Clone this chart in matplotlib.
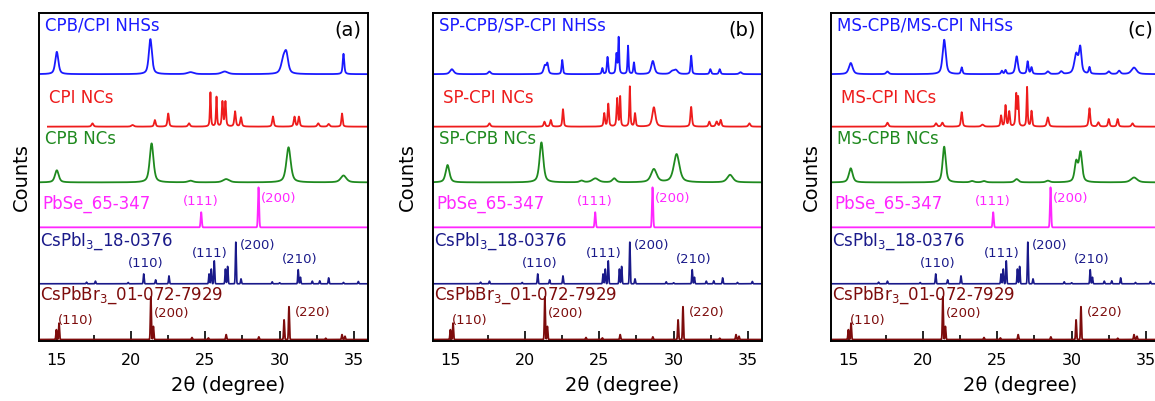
import numpy as np
import matplotlib.pyplot as plt

# Patrones de difraccion: cada pico es (2theta, altura, ancho FWHM)

# (a) CPB / CPI
cpb_cpi_nhs = [(15.0, 6.8, 0.25), (21.3, 10.7, 0.25), (24.0, 0.6, 0.5), (26.3, 0.8, 0.5),
               (30.25, 4.0, 0.35), (30.45, 5.5, 0.3), (34.3, 6.2, 0.12)]
cpi_ncs = [(17.4, 1.0, 0.15), (20.1, 0.5, 0.2), (21.6, 2.0, 0.12), (22.5, 4.0, 0.12),
           (23.9, 1.0, 0.15), (25.34, 10.4, 0.08), (25.75, 9.0, 0.08), (26.15, 7.5, 0.1),
           (26.35, 7.5, 0.1), (27.0, 4.6, 0.12), (27.4, 2.8, 0.12), (29.55, 3.1, 0.12),
           (31.0, 3.0, 0.12), (31.3, 3.0, 0.12), (32.6, 1.0, 0.15), (33.3, 0.8, 0.15),
           (34.2, 4.0, 0.1)]
cpb_ncs = [(15.0, 3.7, 0.3), (21.38, 11.9, 0.3), (24.0, 0.5, 0.4), (26.4, 1.0, 0.5),
           (30.6, 10.7, 0.35), (34.3, 2.1, 0.45)]
cpi_ncs_start = 14.4

# (b) SP-CPB / SP-CPI
sp_nhs = [(15.07, 1.5, 0.3), (17.6, 0.8, 0.2), (21.33, 2.5, 0.2), (21.5, 3.0, 0.15),
          (22.5, 4.3, 0.1), (25.2, 1.8, 0.1), (25.55, 5.2, 0.1), (26.15, 6.0, 0.1),
          (26.3, 11.0, 0.08), (26.93, 8.6, 0.08), (27.33, 3.5, 0.1), (28.6, 4.0, 0.25),
          (29.9, 0.8, 0.3), (30.15, 1.2, 0.3), (31.18, 5.6, 0.1), (32.47, 1.5, 0.12),
          (33.1, 1.5, 0.12), (34.5, 0.6, 0.2)]
sp_cpi_ncs = [(17.6, 1.0, 0.15), (21.3, 1.5, 0.12), (21.73, 2.0, 0.12), (22.55, 5.3, 0.1),
              (25.33, 4.0, 0.1), (25.6, 6.9, 0.1), (26.2, 8.5, 0.1), (26.4, 9.0, 0.08),
              (27.05, 12.2, 0.08), (27.4, 4.0, 0.1), (28.67, 5.9, 0.25), (31.18, 6.0, 0.12),
              (32.4, 1.5, 0.12), (32.9, 1.5, 0.15), (33.17, 2.0, 0.12), (35.1, 1.0, 0.15)]
sp_cpb_ncs = [(14.78, 5.3, 0.3), (21.1, 12.2, 0.3), (23.8, 0.5, 0.3), (24.73, 1.2, 0.5),
              (26.0, 1.2, 0.3), (28.67, 4.0, 0.45), (30.2, 8.6, 0.45), (33.8, 2.3, 0.45)]

# (c) MS-CPB / MS-CPI
ms_nhs = [(15.13, 3.4, 0.3), (17.6, 0.8, 0.2), (21.42, 10.5, 0.25), (22.6, 2.0, 0.12),
          (25.3, 1.0, 0.12), (25.55, 1.2, 0.12), (26.3, 5.4, 0.2), (27.04, 3.8, 0.12),
          (27.3, 2.0, 0.12), (28.4, 0.8, 0.2), (29.3, 0.8, 0.2), (30.31, 6.0, 0.3),
          (30.58, 7.6, 0.2), (31.2, 2.0, 0.12), (32.5, 0.8, 0.2), (33.2, 1.0, 0.2),
          (34.2, 2.0, 0.4)]
ms_cpi_ncs = [(17.6, 1.2, 0.15), (20.87, 1.0, 0.15), (21.3, 1.2, 0.15), (22.6, 4.4, 0.12),
              (24.0, 0.6, 0.2), (25.25, 3.3, 0.1), (25.55, 6.4, 0.1), (25.8, 4.5, 0.1),
              (26.27, 9.8, 0.1), (26.4, 8.5, 0.08), (27.0, 12.0, 0.08), (27.3, 4.7, 0.1),
              (28.4, 2.8, 0.15), (31.2, 5.6, 0.12), (31.8, 1.3, 0.15), (32.5, 2.3, 0.12),
              (33.1, 2.3, 0.12), (34.1, 1.0, 0.15)]
ms_cpb_ncs = [(15.13, 4.3, 0.3), (21.42, 10.9, 0.25), (23.3, 0.4, 0.3), (24.1, 0.4, 0.3),
              (26.3, 1.0, 0.3), (28.4, 0.5, 0.3), (30.31, 6.0, 0.25), (30.6, 8.9, 0.25),
              (34.2, 1.5, 0.5)]

# Patrones de referencia (fichas JCPDS)
pbse_ref = [(24.72, 4.6), (28.58, 12.2)]
cspbi3_ref = [(17.0, 0.5), (17.6, 0.8), (19.8, 0.4), (20.85, 3.0), (21.65, 1.2), (22.55, 2.4),
              (25.25, 3.0), (25.4, 4.5), (25.6, 7.0), (26.35, 4.5), (26.5, 5.3), (27.05, 12.7),
              (27.4, 1.5), (29.5, 0.6), (30.0, 0.3), (31.25, 4.3), (31.4, 2.0), (32.2, 0.8),
              (32.7, 0.9), (33.3, 1.8), (34.3, 0.4), (35.3, 0.7)]
cspbbr3_ref = [(14.97, 3.0), (15.15, 5.0), (21.33, 13.0), (21.5, 4.0), (24.1, 0.6), (25.2, 0.5),
               (26.4, 1.5), (28.6, 0.8), (30.3, 6.0), (30.63, 10.0), (33.1, 0.4), (34.2, 1.5),
               (34.4, 1.0)]

panel_tags = ['(a)', '(b)', '(c)']
nhs_names = ['CPB/CPI NHSs', 'SP-CPB/SP-CPI NHSs', 'MS-CPB/MS-CPI NHSs']
cpi_names = ['CPI NCs', 'SP-CPI NCs', 'MS-CPI NCs']
cpb_names = ['CPB NCs', 'SP-CPB NCs', 'MS-CPB NCs']
ref_names = ['PbSe_65-347', r'CsPbI$_3$_18-0376', r'CsPbBr$_3$_01-072-7929']
pbse_hkl = ['(111)', '(200)']
cspbi3_hkl = ['(110)', '(111)', '(200)', '(210)']
cspbbr3_hkl = ['(110)', '(200)', '(220)']

# Colores
c_blue = '#1a1aff'
c_red = '#ee1c1c'
c_green = '#1f8a1f'
c_mag = '#ff26ff'
c_navy = '#1a1a8a'
c_dred = '#7d0c0c'

two_theta = np.arange(13.5, 37.2, 0.005)


def profile(peaks, eta=0.6):
    y = np.zeros_like(two_theta)
    for pos, h, w in peaks:
        d = (two_theta - pos) / w
        y += h * (eta / (1 + 4 * d**2) + (1 - eta) * np.exp(-4 * np.log(2) * d**2))
    return y


def sticks(peaks, w=0.07):
    return profile([(p, h, w) for p, h in peaks], eta=0.0)


fig = plt.figure(figsize=(11.55, 4.01), dpi=100)
lefts = [39, 433, 831]
widths = [329, 329, 345]          # el panel (c) queda cortado por el borde derecho
label_x = [-0.024, -0.049, -0.029]
measured = [(cpb_cpi_nhs, cpi_ncs, cpb_ncs),
            (sp_nhs, sp_cpi_ncs, sp_cpb_ncs),
            (ms_nhs, ms_cpi_ncs, ms_cpb_ncs)]

# desplazamientos verticales de cada curva
off = [81.3, 65.3, 48.3, 34.6, 17.4, 0.4]
px_per_deg = 329 / (35.95 - 13.8)

for i in range(3):
    ax = fig.add_axes([lefts[i] / 1155, 0.150, widths[i] / 1155, 0.818])
    nhs, cpi, cpb = measured[i]

    ax.plot(two_theta, off[0] + profile(nhs), color=c_blue, lw=1.3)
    y_cpi = off[1] + profile(cpi)
    if i == 0:
        y_cpi = np.where(two_theta >= cpi_ncs_start, y_cpi, np.nan)
    ax.plot(two_theta, y_cpi, color=c_red, lw=1.3)
    ax.plot(two_theta, off[2] + profile(cpb), color=c_green, lw=1.3)
    ax.plot(two_theta, off[3] + sticks(pbse_ref, 0.09), color=c_mag, lw=1.3)
    ax.plot(two_theta, off[4] + sticks(cspbi3_ref), color=c_navy, lw=1.2)
    ax.plot(two_theta, off[5] + sticks(cspbbr3_ref), color=c_dred, lw=1.3)

    # nombres de las curvas
    fs = 12
    ax.text(14.2, 96.0, nhs_names[i], color=c_blue, fontsize=fs, va='center')
    ax.text(14.45, 74.0, cpi_names[i], color=c_red, fontsize=fs, va='center')
    ax.text(14.2, 61.5, cpb_names[i], color=c_green, fontsize=fs, va='center')
    ax.text(14.05, 41.8, ref_names[0], color=c_mag, fontsize=fs, va='center')
    ax.text(13.85, 30.3, ref_names[1], color=c_navy, fontsize=fs, va='center')
    ax.text(13.85, 13.8, ref_names[2], color=c_dred, fontsize=fs, va='center')

    # indices de Miller
    hs = 9.5
    for lab, (x, y) in zip(pbse_hkl, [(24.72, 42.5), (29.9, 43.5)]):
        ax.text(x, y, lab, color=c_mag, fontsize=hs, ha='center', va='center')
    for lab, (x, y) in zip(cspbi3_hkl, [(20.95, 23.5), (25.3, 26.5), (28.5, 29.0), (31.35, 24.8)]):
        ax.text(x, y, lab, color=c_navy, fontsize=hs, ha='center', va='center')
    for lab, (x, y) in zip(cspbbr3_hkl, [(16.3, 6.3), (22.7, 8.3), (32.2, 8.5)]):
        ax.text(x, y, lab, color=c_dred, fontsize=hs, ha='center', va='center')

    tag_x = 13.8 + 0.94 * 329 / px_per_deg
    ax.text(tag_x, 94.8, panel_tags[i], fontsize=14, ha='center', va='center')

    ax.set_xlim(13.8, 13.8 + widths[i] / px_per_deg)
    ax.set_ylim(0, 100)
    ax.set_xticks([15, 20, 25, 30, 35])
    ax.set_xticks([17.5, 22.5, 27.5, 32.5], minor=True)
    ax.set_yticks([])
    ax.tick_params(axis='x', which='major', direction='in', length=7, width=1.2,
                   labelsize=11.5, pad=9, top=False)
    ax.tick_params(axis='x', which='minor', direction='in', length=4, width=1.2, top=False)
    for sp in ax.spines.values():
        sp.set_linewidth(1.4)
    ax.set_xlabel('2θ (degree)', fontsize=14)
    # la etiqueta del eje x esta algo desplazada a la derecha en el original
    ax.xaxis.set_label_coords(189 / widths[i], -0.108)
    ax.set_ylabel('Counts', fontsize=14)
    ax.yaxis.set_label_coords(label_x[i], 0.5)

fig.savefig('out.png', dpi=100)
